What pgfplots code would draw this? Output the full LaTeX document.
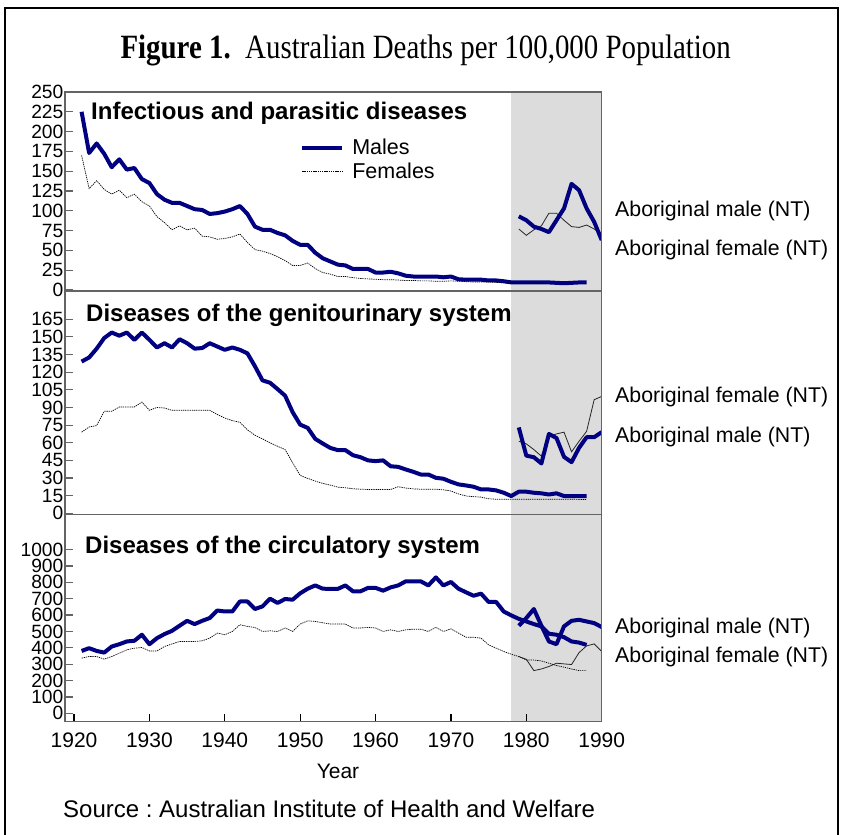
\documentclass[border=0pt]{standalone}
\usepackage{fontspec}
\setmainfont{Liberation Sans}
\newfontfamily\titlefont[FakeStretch=0.85]{Liberation Serif}
\usepackage{pgfplots}
\pgfplotsset{compat=1.18}
\frenchspacing
\definecolor{malecol}{RGB}{0,0,128}
\definecolor{shade}{RGB}{220,220,220}
\definecolor{framegray}{RGB}{100,100,100}

\pgfplotsset{
  panel/.style={
    scale only axis, width=536.7pt, anchor=north west,
    xmin=1918.8, xmax=1990,
    axis on top,
    axis line style={framegray, line width=1.3pt},
    tick align=inside, major tick length=8pt,
    ytick style={framegray, line width=1.2pt},
    ytick pos=left,
    yticklabel style={font=\fontsize{19.2}{19.2}\selectfont, inner sep=1.5pt},
    /pgf/number format/assume math mode=true,
    /pgf/number format/set thousands separator={},
    xtick=\empty,
  },
  male/.style={malecol, line width=4pt, line join=round},
  female/.style={black, line width=0.7pt, dash pattern=on 1.3pt off 0.9pt},
  abfemale/.style={black!85, line width=0.8pt},
  band/.style={draw=none, fill=shade, forget plot},
}

\begin{document}
\begin{tikzpicture}
\path[use as bounding box] (0,0) rectangle (842pt,-834pt);
\draw[line width=2pt] (5pt,-840pt) -- (5pt,-8pt) -- (838pt,-8pt) -- (838pt,-840pt);

\node[anchor=base west, font=\titlefont\fontsize{34}{36}\selectfont] at (117pt,-59pt)
  {\textbf{Figure 1.}\ \ Australian Deaths per 100,000 Population};

% ---------- Infectious and parasitic diseases ----------
\begin{axis}[panel, at={(65pt,-92pt)}, height=199pt,
  ymin=-1.3, ymax=250, ytick={0,25,...,250},
  legend style={at={(0.438,0.775)}, anchor=north west, draw=none, fill=none,
    font=\fontsize{21.5}{24}\selectfont, inner sep=0pt, row sep=2.5pt,
    column sep=6pt},
  legend cell align=left,
  legend image code/.code={\draw[#1] (0pt,0pt) -- (40pt,0pt);},
]
\addplot[band] coordinates {(1978,-10)(1990,-10)(1990,300)(1978,300)} -- cycle;
\addplot[male] coordinates {
(1921,225)(1922,173)(1923,185)(1924,172)(1925,155)(1926,165)(1927,152)(1928,154)(1929,140)(1930,135)
(1931,121)(1932,114)(1933,110)(1934,110)(1935,106)(1936,102)(1937,101)(1938,96)(1939,97)(1940,99)
(1941,102)(1942,106)(1943,96)(1944,80)(1945,76)(1946,76)(1947,72)(1948,69)(1949,62)(1950,57)
(1951,57)(1952,47)(1953,40)(1954,36)(1955,32)(1956,31)(1957,26.5)(1958,26.5)(1959,26.5)(1960,22)
(1961,22)(1962,23)(1963,21)(1964,18)(1965,17)(1966,17)(1967,17)(1968,17)(1969,16)(1970,17)
(1971,13.5)(1972,13)(1973,13)(1974,13)(1975,12)(1976,12)(1977,11)(1978,9.6)(1979,9.5)(1980,9.5)
(1981,9.5)(1982,9.5)(1983,9.5)(1984,9)(1985,8.5)(1986,9)(1987,9.5)(1988,9.5)};
\addlegendentry{Males}
\addplot[female] coordinates {
(1921,170)(1922,128)(1923,138)(1924,127)(1925,121)(1926,126)(1927,116.5)(1928,121)(1929,111.5)(1930,106)
(1931,92.6)(1932,85)(1933,76)(1934,81)(1935,76)(1936,78)(1937,68)(1938,67)(1939,64)(1940,65)
(1941,67)(1942,70.7)(1943,60)(1944,51)(1945,49)(1946,46)(1947,42)(1948,37)(1949,31)(1950,31)
(1951,34)(1952,27)(1953,22)(1954,20)(1955,17)(1956,17)(1957,15.5)(1958,14.5)(1959,14)(1960,13.5)
(1961,13)(1962,13)(1963,12.5)(1964,12)(1965,12)(1966,11.5)(1967,11.5)(1968,11)(1969,11)(1970,11.5)
(1971,11)(1972,10.5)(1973,10)(1974,10)(1975,10)(1976,9.5)(1977,9)(1978,8.5)(1979,8.5)(1980,8.5)
(1981,8.5)(1982,8.5)(1983,8)(1984,8)(1985,8)(1986,8)(1987,8)(1988,8)};
\addlegendentry{Females}
% Aboriginal (NT)
\addplot[abfemale, forget plot] coordinates {
(1979,77)(1980,69)(1981,76)(1982,81)(1983,97)(1984,97)(1985,88)(1986,80)(1987,79)(1988,82)(1989,77)(1990,71)};
\addplot[male, forget plot] coordinates {
(1979,93)(1980,88)(1981,80)(1982,77)(1983,73)(1984,88)(1985,103)(1986,134)(1987,126)(1988,103)(1989,86)(1990,63)};
\end{axis}

% ---------- Diseases of the genitourinary system ----------
\begin{axis}[panel, at={(65pt,-291pt)}, height=223.5pt,
  ymin=-1, ymax=189, ytick={0,15,...,165}]
\addplot[band] coordinates {(1978,-10)(1990,-10)(1990,300)(1978,300)} -- cycle;
\addplot[male] coordinates {
(1921,129)(1922,132.5)(1923,140)(1924,149)(1925,153.7)(1926,151)(1927,153.7)(1928,147.5)(1929,153.7)(1930,147.5)
(1931,141)(1932,144.6)(1933,141)(1934,148)(1935,144.6)(1936,140)(1937,140.5)(1938,144.6)(1939,141.8)(1940,139)
(1941,141)(1942,139)(1943,136)(1944,125)(1945,113)(1946,111)(1947,105.6)(1948,100)(1949,86)(1950,75.4)
(1951,72.6)(1952,63.3)(1953,59.3)(1954,55.6)(1955,53.7)(1956,53.7)(1957,49.4)(1958,47.7)(1959,45)(1960,44.4)
(1961,45)(1962,40)(1963,39.5)(1964,37.3)(1965,35.3)(1966,33)(1967,33)(1968,30.2)(1969,29.4)(1970,26.8)
(1971,24.6)(1972,23.7)(1973,22.6)(1974,20.3)(1975,20.3)(1976,19.5)(1977,17.5)(1978,14.7)(1979,18.4)(1980,18.4)
(1981,17.5)(1982,17)(1983,16)(1984,17)(1985,14.7)(1986,14.7)(1987,14.7)(1988,14.7)};
\addplot[female] coordinates {
(1921,69)(1922,73.4)(1923,74.6)(1924,86.7)(1925,86.7)(1926,90.4)(1927,90.4)(1928,90.4)(1929,94.6)(1930,87.6)
(1931,90)(1932,89.5)(1933,87.6)(1934,87.6)(1935,87.6)(1936,87.6)(1937,87.6)(1938,87.6)(1939,84)(1940,81)
(1941,78.8)(1942,77.4)(1943,71)(1944,66.4)(1945,63.3)(1946,60)(1947,57)(1948,54.2)(1949,43)(1950,32.2)
(1951,29.7)(1952,27.4)(1953,25.4)(1954,24)(1955,22.3)(1956,21.7)(1957,20.9)(1958,20.5)(1959,20.3)(1960,20.3)
(1961,20.3)(1962,20.3)(1963,22.6)(1964,21.5)(1965,20.8)(1966,20.5)(1967,20.5)(1968,20.5)(1969,20)(1970,19)
(1971,16.5)(1972,14.7)(1973,14.2)(1974,13.8)(1975,12.4)(1976,12)(1977,12)(1978,12)(1979,12)(1980,12)
(1981,12)(1982,12)(1983,12)(1984,12)(1985,12)(1986,12)(1987,11.8)(1988,11.8)};
\addplot[abfemale] coordinates {
(1979,61.3)(1980,59)(1981,54.2)(1982,48.6)(1983,65.5)(1984,67.5)(1985,69)(1986,52.3)(1987,61.3)(1988,69.7)(1989,96.6)(1990,99.4)};
\addplot[male] coordinates {
(1979,73)(1980,49)(1981,47.7)(1982,42.4)(1983,67.5)(1984,64)(1985,48)(1986,43.5)(1987,55.7)(1988,64.7)(1989,64.7)(1990,69)};
\end{axis}

% ---------- Diseases of the circulatory system ----------
\begin{axis}[panel, at={(65pt,-514.5pt)}, height=207.2pt,
  ymin=-51, ymax=1214, ytick={0,100,...,1000},
  xtick={1920,1930,...,1990}, xtick pos=bottom,
  xtick style={black, line width=1.2pt},
  xticklabel style={font=\fontsize{21}{21}\selectfont, inner sep=3pt, yshift=-8pt},
]
\addplot[band] coordinates {(1978,-100)(1990,-100)(1990,2000)(1978,2000)} -- cycle;
\addplot[male] coordinates {
(1921,381)(1922,398)(1923,381)(1924,371)(1925,408)(1926,422)(1927,439)(1928,443)(1929,480)(1930,422)
(1931,459)(1932,484)(1933,504)(1934,535)(1935,565)(1936,545)(1937,565)(1938,582)(1939,628)(1940,622)
(1941,622)(1942,683)(1943,683)(1944,637)(1945,653)(1946,700)(1947,674)(1948,698)(1949,694)(1950,733)
(1951,761)(1952,781)(1953,761)(1954,760)(1955,760)(1956,781)(1957,745)(1958,745)(1959,766)(1960,766)
(1961,749)(1962,769)(1963,781)(1964,806)(1965,806)(1966,806)(1967,781)(1968,830)(1969,781)(1970,802)
(1971,761)(1972,739)(1973,718)(1974,731)(1975,680)(1976,680)(1977,622)(1978,598)(1979,577)(1980,561)
(1981,545)(1982,531)(1983,486)(1984,480)(1985,465)(1986,439)(1987,432)(1988,418)};
\addplot[female] coordinates {
(1921,337)(1922,347)(1923,347)(1924,331)(1925,347)(1926,367)(1927,388)(1928,398)(1929,402)(1930,381)
(1931,381)(1932,408)(1933,424)(1934,439)(1935,439)(1936,439)(1937,443)(1938,459)(1939,490)(1940,480)
(1941,500)(1942,541)(1943,531)(1944,524)(1945,500)(1946,504)(1947,500)(1948,521)(1949,500)(1950,545)
(1951,565)(1952,561)(1953,553)(1954,545)(1955,545)(1956,545)(1957,521)(1958,521)(1959,525)(1960,521)
(1961,500)(1962,510)(1963,500)(1964,510)(1965,514)(1966,514)(1967,500)(1968,525)(1969,500)(1970,516)
(1971,490)(1972,465)(1973,465)(1974,459)(1975,418)(1976,398)(1977,378)(1978,361)(1979,347)(1980,326)
(1981,326)(1982,320)(1983,306)(1984,292)(1985,282)(1986,271)(1987,261)(1988,261)};
\addplot[abfemale] coordinates {
(1979,347)(1980,330)(1981,261)(1982,271)(1983,286)(1984,306)(1985,302)(1986,298)(1987,371)(1988,412)(1989,424)(1990,378)};
\addplot[male] coordinates {
(1979,535)(1980,582)(1981,637)(1982,535)(1983,439)(1984,422)(1985,531)(1986,565)(1987,571)(1988,561)(1989,551)(1990,527)};
\end{axis}

% panel titles
\begin{scope}[every node/.style={anchor=base west, font=\bfseries\fontsize{24}{26}\selectfont, inner sep=0pt}]
\node at (91pt,-120pt) {Infectious and parasitic diseases};
\node at (86pt,-321.5pt) {Diseases of the genitourinary system};
\node at (85pt,-553pt) {Diseases of the circulatory system};
\end{scope}

% series labels at the right
\begin{scope}[every node/.style={anchor=base west, font=\fontsize{21.3}{23}\selectfont, inner sep=0pt}]
\node at (615pt,-217pt) {Aboriginal male (NT)};
\node at (615pt,-255pt) {Aboriginal female (NT)};
\node at (615pt,-402pt) {Aboriginal female (NT)};
\node at (615pt,-442pt) {Aboriginal male (NT)};
\node at (615pt,-633pt) {Aboriginal male (NT)};
\node at (615pt,-662pt) {Aboriginal female (NT)};
\end{scope}

\node[anchor=base, font=\fontsize{21}{23}\selectfont, inner sep=0pt] at (338pt,-778pt) {Year};
\node[anchor=base west, font=\fontsize{24}{26}\selectfont, inner sep=0pt] at (63pt,-817pt)
  {Source : Australian Institute of Health and Welfare};
\end{tikzpicture}
\end{document}
